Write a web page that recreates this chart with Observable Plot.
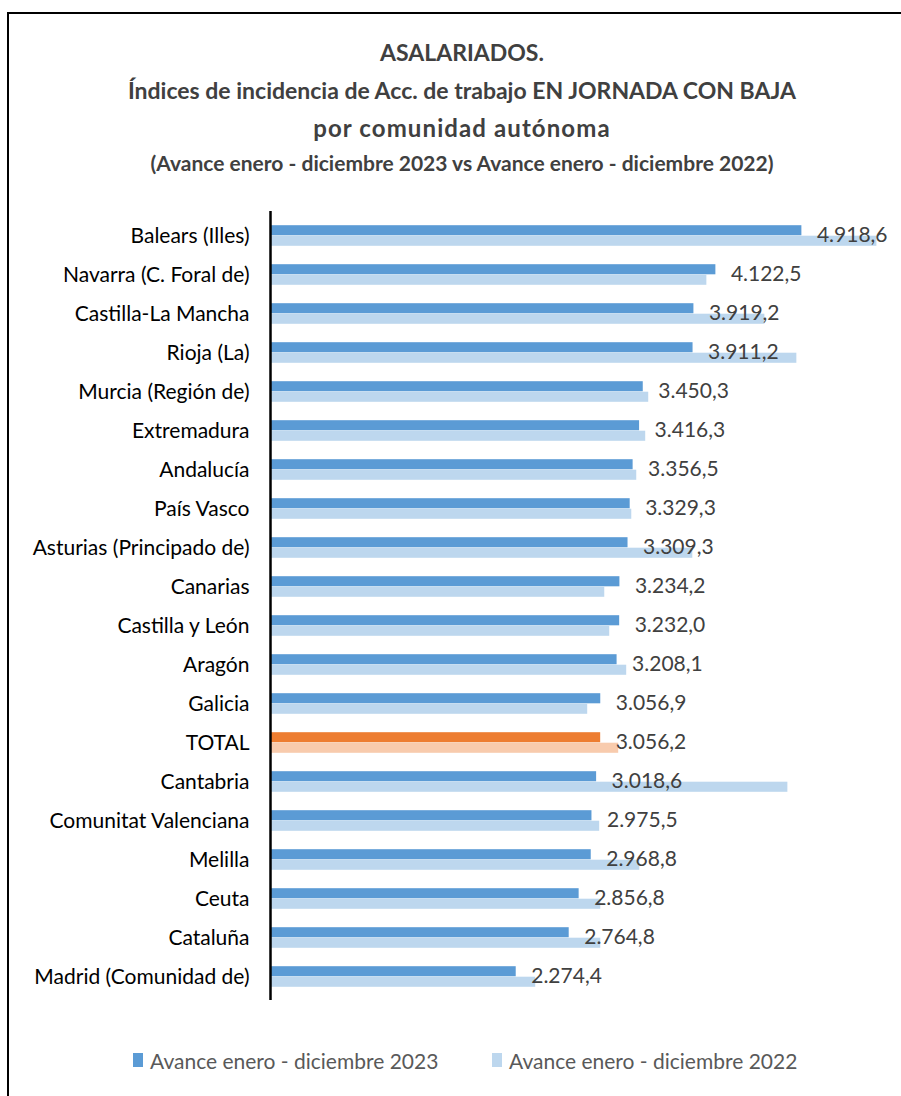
<!DOCTYPE html>
<html>
<head>
<meta charset="utf-8">
<script src="https://cdn.jsdelivr.net/npm/d3@7"></script>
<script src="https://cdn.jsdelivr.net/npm/@observablehq/plot@0.6"></script>
<style>
  html, body { margin: 0; padding: 0; background: #fff; }
  body { width: 901px; height: 1096px; position: relative; overflow: hidden;
         font-family: Lato, 'Open Sans', sans-serif; }
  #frame { position: absolute; left: 7px; top: 12px; width: 1000px; height: 1200px;
           border: 2px solid #000; box-sizing: border-box; }
  #title { position: absolute; left: 0; top: 34px; width: 924px; text-align: center;
           color: #404040; font-weight: bold; }
  #title .l { font-size: 23px; line-height: 37.5px; }
  #title .m { font-size: 24px; line-height: 37.5px; letter-spacing: 1.1px; }
  #title .s { font-size: 21px; line-height: 31px; }
  #chart { position: absolute; left: 0; top: 190px; }
  #legend { position: absolute; top: 1045px; left: 0; width: 901px; height: 30px; color: #595959; font-size: 21px; }
  #legend .item { position: absolute; top: 0; display: flex; align-items: center; height: 30px; }
  #legend .sw { width: 10px; height: 14px; margin-right: 7px; }
</style>
</head>
<body>
<div id="frame"></div>
<div id="title">
  <div class="l">ASALARIADOS.</div>
  <div class="l">Índices de incidencia de Acc. de trabajo EN JORNADA CON BAJA</div>
  <div class="m">por comunidad autónoma</div>
  <div class="s">(Avance enero - diciembre 2023 vs Avance enero - diciembre 2022)</div>
</div>
<div id="chart"></div>
<div id="legend"></div>
<script>
const categories = ["Balears (Illes)", "Navarra (C. Foral de)", "Castilla-La Mancha", "Rioja (La)",
  "Murcia (Región de)", "Extremadura", "Andalucía", "País Vasco", "Asturias (Principado de)",
  "Canarias", "Castilla y León", "Aragón", "Galicia", "TOTAL", "Cantabria",
  "Comunitat Valenciana", "Melilla", "Ceuta", "Cataluña", "Madrid (Comunidad de)"];
const values2023 = [4918.6, 4122.5, 3919.2, 3911.2, 3450.3, 3416.3, 3356.5, 3329.3, 3309.3,
  3234.2, 3232.0, 3208.1, 3056.9, 3056.2, 3018.6, 2975.5, 2968.8, 2856.8, 2764.8, 2274.4];
const values2022 = [5613, 4039, 4576, 4872, 3501, 3473, 3390, 3344, 3909,
  3094, 3140, 3297, 2936, 3223, 4789, 3047, 3418, 3057, 3057, 2455];
const seriesNames = ["Avance enero - diciembre 2023", "Avance enero - diciembre 2022"];
const colorKeys = ["2023", "2022", "TOTAL 2023", "TOTAL 2022"];
const colorValues = ["#5B9BD5", "#BDD7EE", "#ED7D31", "#F8CBAD"];

const FONT = "Lato, 'Open Sans', sans-serif";
const esLocale = d3.formatLocale({decimal: ",", thousands: ".", grouping: [3], currency: ["", " €"]});
const fmt = esLocale.format(",.1f");

const rows = categories.map((c, i) => ({
  cat: c, v2023: values2023[i], v2022: values2022[i],
  k23: c === "TOTAL" ? "TOTAL 2023" : "2023",
  k22: c === "TOTAL" ? "TOTAL 2022" : "2022"
}));

const chart = Plot.plot({
  width: 901, height: 830,
  marginLeft: 270, marginRight: 26, marginTop: 21, marginBottom: 20,
  style: {fontFamily: FONT, background: "transparent", color: "#000"},
  x: {domain: [0, 5600], axis: null},
  y: {domain: categories, padding: 0, label: null, axis: null},
  color: {domain: colorKeys, range: colorValues, legend: false},
  marks: [
    Plot.barX(rows, {x: "v2023", y: "cat", fill: "k23", insetTop: 9.2, insetBottom: 19.7}),
    Plot.barX(rows, {x: "v2022", y: "cat", fill: "k22", insetTop: 19.7, insetBottom: 9.2}),
    Plot.ruleX([0], {stroke: "#000", strokeWidth: 2.5}),
    Plot.axisY({tickSize: 0, tickPadding: 21, fontSize: 21, label: null}),
    Plot.text(rows, {x: "v2023", y: "cat", text: d => fmt(d.v2023), dx: 15, dy: -1,
      textAnchor: "start", fill: "#404040", fontSize: 21})
  ]
});
document.getElementById("chart").appendChild(chart);

const legend = document.getElementById("legend");
const legendX = [133, 492];
seriesNames.forEach((name, i) => {
  const item = document.createElement("div");
  item.className = "item";
  item.style.left = legendX[i] + "px";
  const sw = document.createElement("span");
  sw.className = "sw";
  sw.style.background = colorValues[i];
  const t = document.createElement("span");
  t.textContent = name;
  item.appendChild(sw); item.appendChild(t);
  legend.appendChild(item);
});
</script>
</body>
</html>
